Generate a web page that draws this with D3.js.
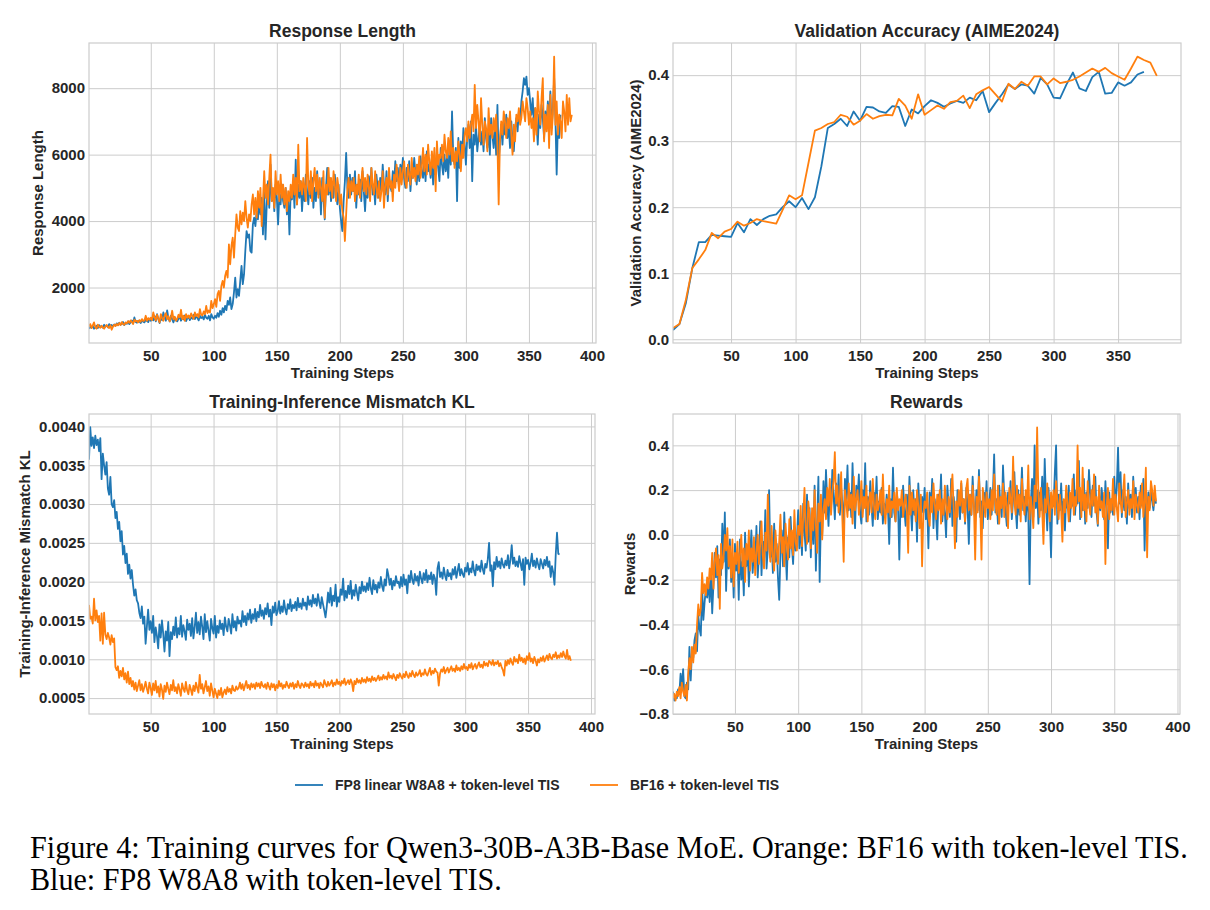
<!DOCTYPE html>
<html>
<head>
<meta charset="utf-8">
<script src="https://cdn.jsdelivr.net/npm/d3@7"></script>
<style>
  body { margin: 0; background: #fff; }
  svg { display: block; font-family: "Liberation Sans", Arial, sans-serif; }
</style>
</head>
<body>
<svg width="1210" height="910"></svg>
<script>
// ---- data ----
// response length, one value per training step (from step 1)
var rlFp8 = [
760,820,790,840,760,800,850,780,870,810,
830,790,880,820,860,800,900,840,870,830,
890,850,920,870,940,880,900,960,870,930,
910,980,900,950,1010,920,1100,960,940,1000,
980,930,1020,970,950,1040,990,960,1060,1000,
1080,1010,1150,980,1200,1050,930,1120,1020,1250,
1100,1000,1310,1080,980,1150,1040,950,1100,1020,
980,1060,1130,1000,1090,1040,1160,990,1070,1120,
1020,1100,1060,1180,1050,1130,1090,1010,1150,1080,
1120,1040,1180,1090,1060,1150,1010,1200,1100,1060,
1150,1090,1230,1120,1300,1180,1380,1250,1450,1320,
1600,1480,1700,1350,1500,1850,2300,1700,1950,1750,
2200,2650,2100,2400,3100,3700,3500,3600,3100,3050,
3900,4100,3850,4300,4050,4550,4200,4700,3600,4900,
3450,4500,5200,4400,5700,4600,4950,4300,5100,4700,
3900,4800,4500,5100,4600,4400,5000,4200,4700,3600,
4900,4650,5200,4400,5850,4500,5100,4700,5200,4300,
5000,4600,5400,4900,4500,5200,4700,5300,4400,5000,
4600,5500,4800,5150,4200,5300,4700,4050,5000,5600,
4800,5300,4600,5050,4700,5400,4900,4500,5100,4400,
4000,3700,4600,5200,6050,5000,4700,5400,4800,5300,
4900,5500,4400,5100,4800,5250,4600,5500,4900,4300,
5100,4700,5350,4900,5600,4800,5100,4500,5400,5000,
4700,5300,4900,5700,5100,4800,5500,4600,5300,5050,
4900,5500,5100,5800,5200,5600,5000,5700,5400,5900,
5300,5000,5600,5200,5800,4900,5500,5300,5900,5400,
5100,5700,5200,5950,5500,5300,5800,5200,6100,5500,
5700,5300,5900,5100,5600,5400,6100,5600,5200,6200,
5700,5400,6000,5500,5900,5300,6300,5700,7300,5900,
5700,6200,4600,6500,5600,6400,5900,6800,6300,5700,
6500,6900,6200,7000,5200,6600,6300,6900,6100,6500,
6900,6300,6700,6100,7100,6500,6200,6800,6000,7100,
6600,6200,6900,6000,7500,5800,6400,6900,6300,7000,
6600,7200,6500,6900,6200,7000,6400,6100,6800,7100,
6700,7300,7000,7600,7900,8300,8100,8350,7800,8000,
7600,7200,7700,6900,7400,7000,6300,7200,6800,7500,
7100,6500,7300,6900,7600,7000,7900,6800,7400,8300,
7100,5400,7000,6500,7200
];
var rlBf16 = [
820,900,780,860,950,800,760,880,820,790,
850,800,760,830,870,810,780,860,730,820,
880,840,900,860,930,870,960,900,880,950,
920,990,940,1010,960,900,1030,980,1000,950,
1020,970,1050,990,1010,1150,1000,1080,1030,1090,
1020,1250,1100,1010,1180,1060,950,1200,1080,1000,
1150,1230,1050,1140,980,1100,1300,1040,1120,1000,
1060,1180,1100,1330,1050,1150,1000,1200,1090,1160,
1080,1220,1130,1060,1250,1140,1200,1100,1350,1180,
1160,1280,1200,1450,1230,1310,1250,1600,1380,1500,
1650,1420,1800,1900,1600,2050,2200,2000,2350,2500,
2300,3300,2700,3250,3500,2900,3600,4200,3800,3700,
4300,3900,4250,4000,4600,4100,3800,4200,4000,4500,
4800,4200,4700,4100,4900,4400,5000,3850,4600,5500,
4700,5100,4500,5300,6000,4600,5000,4400,5500,4800,
5200,4600,5400,4700,5100,4500,5000,4300,4900,4600,
5100,4700,5400,4800,5300,4500,6300,4900,5200,4800,
5300,5000,4600,6500,5100,4800,5500,4600,5200,5600,
4900,5400,4700,5300,5000,4600,5500,4100,5100,4800,
5600,4900,5300,4700,5500,5100,4600,5300,5000,4500,
4800,4300,4100,3400,4200,5000,5300,4700,5200,4900,
5300,4600,5100,4800,5400,4700,5200,5600,4900,5300,
4800,5400,5000,4600,5600,5100,4800,5500,5000,4700,
5200,4600,4900,5500,4400,5100,5300,4800,5600,5000,
5200,4600,5400,5000,5700,5300,4900,5600,5100,5500,
5800,5200,5000,5700,5400,5100,5900,5300,5600,5200,
5700,5400,5950,5300,5600,6200,5500,6000,5400,6300,
5800,5400,6100,5600,6200,4900,6400,5700,6000,5900,
6300,5800,6600,6100,5900,6500,6000,6700,5800,6200,
5600,6100,5800,6400,6000,5500,6300,5900,6600,6800,
6400,7000,6500,6900,7200,6700,8100,6800,7500,7000,
6400,7700,6900,6300,7000,6800,6100,7400,6600,6900,
6500,7100,6700,7200,6300,4500,6400,7000,6600,7300,
7000,6500,7100,6800,7300,6600,6000,6900,6400,7200,
7000,7400,6900,7100,7600,7300,7000,7700,7400,6900,
7300,6800,7100,6400,7400,6600,7900,7300,6900,7700,
8300,6400,7200,6700,7500,6200,7800,6600,7200,8950,
6900,7600,6600,7200,7000,6500,7600,7300,6700,7800,
6900,7700,7000,7200
];

// validation accuracy, every 5 steps (from step 5)
var vaFp8 = [
.014,.023,.055,.108,.147,.147,.158,.157,.156,.155,
.176,.162,.182,.173,.182,.187,.189,.200,.209,.200,
.214,.197,.215,.262,.320,.326,.334,.323,.345,.331,
.352,.351,.345,.343,.353,.352,.323,.348,.342,.353,
.362,.358,.352,.357,.361,.358,.366,.362,.376,.344,
.358,.371,.386,.379,.386,.384,.372,.396,.386,.366,
.365,.386,.404,.380,.376,.397,.405,.372,.373,.389,
.384,.389,.401,.405
];
var vaBf16 = [
.017,.023,.060,.108,.121,.135,.161,.153,.163,.167,
.178,.172,.176,.182,.179,.177,.175,.196,.218,.212,
.218,.267,.316,.320,.326,.329,.340,.337,.325,.331,
.341,.334,.338,.340,.339,.364,.354,.334,.371,.340,
.347,.354,.349,.359,.361,.369,.350,.371,.377,.382,
.371,.360,.387,.379,.390,.384,.398,.398,.386,.395,
.388,.390,.393,.398,.404,.410,.405,.411,.403,.398,
.393,.410,.428,.423,.419,.399
];

// training-inference mismatch KL, in units of 1e-4, one per step
var klFp8 = [
35.7,39.9,37.5,38.6,37.2,38.8,37.6,38.3,36.8,38.5,
33.2,36.5,35.0,33.8,35.4,32.0,31.2,33.5,30.0,29.6,
30.5,28.2,29.0,26.8,27.7,25.2,26.5,23.5,24.6,22.4,
23.6,21.0,22.2,20.4,21.5,19.6,18.2,19.0,17.6,17.2,
16.0,15.3,16.8,14.6,15.5,12.0,14.2,16.4,13.8,14.9,
13.4,15.6,12.2,14.1,13.0,11.4,14.5,12.8,15.0,13.3,
11.0,13.6,12.4,14.8,10.4,13.5,12.6,14.2,13.1,15.4,
12.8,14.0,13.2,15.6,12.9,14.4,13.6,12.5,15.1,13.8,
14.6,13.0,15.3,12.7,14.1,16.0,13.4,14.8,13.2,15.5,
14.2,12.6,15.8,13.5,14.9,13.7,12.4,15.2,14.0,13.3,
15.6,12.8,14.3,13.4,15.0,13.9,14.6,13.1,15.4,14.2,
13.6,15.2,14.4,13.3,15.8,14.1,14.9,13.7,15.5,14.6,
15.0,14.2,16.2,14.8,15.6,14.4,15.9,15.1,16.4,14.7,
15.8,15.2,16.5,14.9,16.1,15.4,17.0,15.6,16.3,15.2,
16.6,15.8,17.2,15.5,16.4,14.4,16.8,16.0,17.3,15.7,
16.2,17.5,15.9,16.8,16.1,17.6,16.4,15.8,17.1,16.5,
17.7,16.2,17.0,16.6,17.4,16.3,17.9,16.7,17.2,16.5,
17.8,16.9,17.3,16.4,18.1,17.0,17.6,16.8,18.3,17.2,
17.8,16.9,18.4,17.4,16.6,18.0,17.1,16.3,15.4,16.8,
18.6,17.3,19.2,16.9,18.2,17.5,19.6,16.8,18.0,17.4,
19.0,18.3,20.4,17.6,18.8,17.9,19.5,18.4,20.1,17.8,
18.9,18.2,19.6,18.6,17.6,19.3,18.5,20.0,18.8,19.4,
18.7,19.8,18.9,20.5,19.1,18.4,20.2,19.0,19.6,18.6,
19.9,19.2,20.6,19.4,18.8,20.3,19.5,21.6,20.8,19.6,
20.4,19.0,20.1,19.5,20.7,19.8,20.0,19.2,20.6,19.4,
20.9,19.6,20.3,18.5,20.8,19.9,21.4,20.2,19.7,21.0,
20.1,20.7,19.5,21.3,20.4,19.8,21.1,20.2,21.5,19.9,
20.8,20.3,21.2,19.7,20.9,20.4,18.3,21.7,22.5,20.6,
21.2,20.4,21.8,20.8,20.2,21.5,20.7,21.1,20.3,21.6,
20.9,21.9,20.5,21.4,22.3,20.8,21.6,21.0,20.6,21.8,
21.3,22.4,20.9,21.7,21.2,22.6,21.4,20.8,22.2,21.5,
22.0,21.3,22.7,21.6,21.0,22.3,21.8,22.9,25.0,21.4,
22.1,19.4,22.5,21.6,23.2,21.9,22.6,21.7,23.0,22.2,
21.8,22.7,22.1,23.4,21.7,22.8,24.7,22.3,23.1,22.0,
22.6,21.9,23.3,22.4,21.5,22.9,19.6,23.1,22.3,22.8,
21.6,22.4,23.6,22.0,22.7,21.8,23.0,22.2,21.6,22.9,
22.3,21.7,22.8,22.1,23.2,21.9,22.6,20.6,22.0,21.2,
19.6,23.5,26.3,23.6,23.5
];
var klBf16 = [
17.0,15.2,15.5,14.6,17.8,15.0,16.3,14.8,15.6,12.4,
15.9,12.0,16.0,13.2,12.6,13.4,12.8,11.9,13.1,12.2,
12.7,9.0,8.6,9.1,7.6,8.5,7.8,8.9,7.4,8.2,
7.0,8.4,6.8,7.6,6.5,7.2,6.1,7.0,5.9,6.6,
7.3,6.0,6.8,5.8,6.4,7.1,6.2,5.6,7.0,6.3,
5.4,6.9,6.0,7.2,5.7,6.5,5.2,6.8,6.1,4.9,
6.6,5.8,7.0,6.2,5.5,6.7,6.0,7.3,5.9,6.4,
5.6,6.8,6.1,5.3,6.9,6.2,5.8,7.1,6.0,5.5,
6.7,6.1,5.4,6.6,5.9,7.0,6.3,5.7,8.0,6.2,
6.8,5.6,6.4,7.2,5.9,6.5,5.3,6.9,6.0,5.1,
6.2,5.6,5.0,6.0,5.4,6.3,5.1,5.7,6.1,5.5,
6.4,5.8,6.2,5.6,6.6,6.0,5.9,6.5,6.1,6.3,
7.0,6.2,6.8,6.0,6.6,7.2,6.3,6.7,6.1,6.9,
6.4,6.8,6.2,7.0,6.5,6.9,6.3,7.1,6.6,6.4,
6.8,6.2,7.0,6.5,6.1,6.9,6.4,6.8,6.0,6.7,
6.3,7.2,6.5,6.9,6.2,6.7,6.4,7.1,6.6,6.3,
6.9,6.5,7.0,6.2,6.8,6.4,7.2,6.6,6.3,6.9,
6.7,6.4,7.0,6.5,6.8,6.3,7.1,6.6,6.9,6.4,
7.2,6.6,6.9,6.3,7.0,6.7,6.4,7.3,6.8,6.5,
7.1,6.6,6.9,7.3,6.5,7.0,6.7,7.4,6.8,7.1,
6.6,7.2,6.9,7.5,6.7,7.0,7.3,6.8,7.4,7.0,
5.9,7.2,6.8,7.5,7.0,7.3,6.9,7.6,7.1,7.4,
7.0,7.7,7.2,7.5,7.1,7.8,7.3,7.6,7.2,7.5,
7.9,7.3,7.7,7.4,8.0,7.5,7.8,7.4,8.3,7.6,
7.9,7.5,8.1,7.7,7.3,8.0,7.6,8.2,7.8,7.5,
8.1,7.7,8.4,7.9,7.6,8.2,7.8,8.5,8.0,7.7,
8.3,7.9,8.1,8.6,7.8,8.2,8.0,8.7,8.1,7.9,
8.4,8.9,8.0,8.5,8.2,8.8,8.4,8.3,6.6,8.1,
8.7,8.4,9.0,8.2,8.6,8.9,8.3,8.7,9.1,8.5,
8.8,8.4,9.2,8.6,8.9,8.5,9.1,8.7,9.4,8.8,
9.0,8.6,9.3,8.9,9.5,8.7,9.1,9.4,8.8,9.2,
9.6,9.0,9.3,8.9,9.7,9.2,9.5,9.1,9.8,9.6,
9.3,9.9,9.2,9.6,9.4,9.8,9.1,9.5,9.0,8.6,
7.9,9.8,9.2,9.9,9.4,10.1,9.6,9.3,10.3,9.7,
10.0,9.5,10.6,9.8,10.2,9.6,10.1,9.4,10.4,9.9,
10.8,9.7,10.1,9.5,10.3,9.8,9.2,10.0,9.6,10.2,
9.8,10.4,9.7,10.1,10.5,9.9,10.7,10.2,10.0,10.6,
10.3,10.9,10.1,10.5,10.2,10.8,10.3,11.0,10.4,10.1,
11.2,10.0,10.4,9.8
];

// rewards, one per step
var rwFp8 = [
-.70,-.74,-.72,-.73,-.69,-.71,-.62,-.68,-.60,-.72,
-.73,-.66,-.69,-.50,-.65,-.52,-.55,-.47,-.44,-.52,
-.36,-.42,-.45,-.23,-.38,-.30,-.24,-.28,-.21,-.30,
-.16,-.35,-.22,-.08,-.19,-.05,-.28,-.11,-.18,.05,
-.12,.10,-.25,-.06,-.15,-.02,-.21,-.10,-.28,-.04,
-.16,-.08,-.29,-.02,-.20,-.12,-.27,.01,-.14,-.05,
-.23,-.10,.02,-.17,-.07,-.13,.04,-.19,-.09,.06,
-.18,-.03,-.12,.11,-.15,-.06,.20,-.10,-.02,-.17,
.05,-.12,-.04,-.19,-.29,-.08,.02,-.14,.10,-.06,
-.20,-.01,-.10,.08,-.05,-.13,.03,-.07,-.02,.11,
-.06,.06,-.09,.14,.01,-.07,.18,-.03,.12,-.10,
.09,-.04,.22,-.16,.05,.26,-.21,.08,.00,.24,
.10,.29,.15,.04,.20,.12,.29,.18,.07,.23,
.13,.27,.09,.21,.14,.02,.25,.16,.31,.11,
.19,.08,.32,.14,.03,.22,.16,.27,.10,.05,
.20,.12,.32,.06,.17,.09,.24,.13,.04,.19,
.11,.26,.07,.15,.10,.21,.05,.14,.09,.18,
.12,-.04,.16,.08,.30,.10,.06,.19,.13,-.11,
.15,.08,.22,.11,.04,.18,.07,.26,.13,.02,
.20,.09,.16,-.03,.23,.12,.05,.17,.10,.21,
.07,.14,-.06,.19,.11,.25,.03,.16,.09,-.02,
.18,.12,.27,.06,.15,.10,-.01,.22,.13,.08,
.25,.04,.17,.11,-.03,.20,.14,.07,.23,.10,
.16,.05,.21,.12,-.04,.18,.09,.26,.13,.06,
.20,.11,.29,.08,.15,.03,.19,.12,.24,.07,
.14,.21,.09,.18,.36,.10,.16,.05,.22,.13,
.08,.31,.17,.11,.04,.19,.14,.24,.07,.16,
.28,.12,.03,.20,.09,.15,.30,.11,.17,.06,
.18,.10,-.22,.14,.25,.08,.40,.12,.20,.05,
.19,.11,.26,.07,.34,.15,.02,.21,.09,-.10,
.16,.13,.28,.40,.05,.18,.11,.23,.08,.15,
.02,.19,.12,.22,.06,.17,.13,.27,.09,.20,
.14,.33,.07,.16,.11,.25,.05,.19,.12,.29,
.17,.08,.22,.13,.26,.10,.04,.18,.11,.21,
.15,.07,.24,.12,-.06,.19,.10,.16,.09,.26,
.13,.21,.39,.14,.28,.08,.20,.11,.17,.05,
.23,.12,.18,.08,.26,.14,.21,.10,.17,.07,
.22,.13,.25,-.07,.16,.09,.19,.12,.20,.15,
.11,.18,.14
];
var rwBf16 = [
-.73,-.71,-.74,-.70,-.72,-.68,-.73,-.66,-.70,-.72,
-.67,-.74,-.62,-.55,-.60,-.50,-.57,-.49,-.53,-.40,
-.31,-.36,-.33,-.17,-.26,-.22,-.27,-.19,-.24,-.15,
-.20,-.08,-.24,-.12,-.06,-.18,-.09,-.33,-.04,-.15,
-.10,.00,-.07,.03,-.14,-.05,-.19,-.02,-.23,-.08,
-.13,-.03,-.17,-.09,.00,-.14,-.06,-.21,-.04,-.11,
.02,-.16,-.06,-.12,-.01,-.18,-.08,.00,-.13,-.04,
.06,-.09,-.15,.01,-.07,.18,-.05,-.12,.04,-.10,
-.16,.02,-.06,-.13,-.03,.09,-.08,-.01,-.14,.05,
-.04,-.11,.07,-.06,.02,-.09,.11,-.03,-.07,.04,
.00,.13,-.05,.08,.21,.03,-.04,.15,.09,-.06,
.12,.02,.20,.05,-.08,.14,.06,.18,-.02,.11,
.16,.07,.21,.13,.25,.09,.19,.24,.37,.14,
.22,.10,.17,.28,.06,-.12,.20,.15,.08,.23,
.12,.18,.05,.26,.11,.16,.20,.09,.14,.24,
.08,.17,.12,.22,.06,.15,.19,.10,.25,.13,
.07,.18,.11,.14,.20,.09,.27,.12,.05,.16,
.10,.22,.08,.15,.12,.19,.06,.21,.11,.16,
.13,.20,.08,.14,.18,.10,-.08,.22,.09,.19,
.11,.16,.06,.20,.13,.03,.18,-.14,.09,.15,
.12,.19,.08,.04,.17,.10,.23,.14,.07,.18,
.11,.20,.05,.16,.09,.22,.13,.07,.17,.10,
.19,.27,.12,-.06,.15,.08,.20,.13,.24,.10,
.16,.06,.21,.25,.11,.18,.09,.22,.14,-.11,
.17,.10,.26,.13,-.11,.21,.15,.08,.19,.12,
.16,.07,.20,.11,.27,.14,.09,.22,.05,.17,
.12,.23,.08,.19,.13,.03,.21,.16,.10,.35,
.15,.09,.22,.12,.18,.06,.25,.14,.09,.20,
.13,.31,.07,.17,.11,.03,.22,.15,.48,.18,
.08,.21,.11,-.04,.16,.10,.23,.13,.06,.19,
.12,.20,.09,.24,.15,.07,.18,.11,-.03,.16,
.10,.22,.14,.06,.19,.12,.25,.09,.17,.13,
.40,.15,.21,.08,.30,.11,.18,.06,.24,.14,
.09,.20,.13,.27,.10,.17,.05,.22,.12,.15,
.08,.19,-.13,.13,.21,.07,.16,.11,.25,.09,
.18,.12,.06,.23,.15,.10,.19,.27,.08,.14,
.20,.09,.16,.12,.24,.07,.18,.13,.10,.19,
.12,.23,.08,.15,.30,-.10,.17,.11,.24,.20,
.13,.22,.15
];

var stepTicks = [50, 100, 150, 200, 250, 300, 350, 400];
var seriesNames = ["FP8 linear W8A8 + token-level TIS", "BF16 + token-level TIS"];
var captionLines = [
  "Figure 4: Training curves for Qwen3-30B-A3B-Base MoE. Orange: BF16 with token-level TIS.",
  "Blue: FP8 W8A8 with token-level TIS."
];

// ---- drawing ----
var svg = d3.select("svg");
var blue = "#1f77b4", orange = "#ff7f0e", gridc = "#cccccc", ink = "#262626";

svg.append("rect").attr("width", 1210).attr("height", 910).attr("fill", "#fff");

function perStep(arr, first, every) {
  return arr.map(function(v, i) { return { s: first + i * every, v: v }; });
}

function drawPanel(p) {
  var g = svg.append("g");
  var x = d3.scaleLinear().domain(p.xDomain).range([p.left, p.right]);
  var y = d3.scaleLinear().domain(p.yDomain).range([p.bottom, p.top]);
  var h = p.bottom - p.top, w = p.right - p.left;

  var xa = g.append("g").attr("transform", "translate(0," + p.bottom + ")")
    .call(d3.axisBottom(x).tickValues(p.xTicks).tickSize(-h).tickPadding(7).tickFormat(d3.format("d")));
  var ya = g.append("g").attr("transform", "translate(" + p.left + ",0)")
    .call(d3.axisLeft(y).tickValues(p.yTicks).tickSize(-w).tickPadding(4).tickFormat(p.yFormat));

  [xa, ya].forEach(function(a) {
    a.select(".domain").remove();
    a.selectAll(".tick line").attr("stroke", gridc).attr("stroke-width", 1);
    a.selectAll(".tick text").attr("fill", ink)
      .style("font-size", "15px").style("font-weight", "bold")
      .style("font-family", '"Liberation Sans", Arial, sans-serif');
  });

  var clipId = "clip" + p.id;
  svg.append("clipPath").attr("id", clipId).append("rect")
    .attr("x", p.left).attr("y", p.top).attr("width", w).attr("height", h);

  var line = d3.line().x(function(d) { return x(d.s); }).y(function(d) { return y(d.v); });
  p.series.forEach(function(s) {
    g.append("path").datum(s.data)
      .attr("clip-path", "url(#" + clipId + ")")
      .attr("fill", "none").attr("stroke", s.color)
      .attr("stroke-width", 1.8).attr("stroke-linejoin", "round")
      .attr("d", line);
  });

  g.append("rect").attr("x", p.left).attr("y", p.top).attr("width", w).attr("height", h)
    .attr("fill", "none").attr("stroke", gridc).attr("stroke-width", 1.2);

  g.append("text").attr("x", (p.left + p.right) / 2).attr("y", p.top - 6)
    .attr("text-anchor", "middle").attr("fill", ink)
    .style("font-size", "17.5px").style("font-weight", "bold").text(p.title);

  g.append("text").attr("x", (p.left + p.right) / 2).attr("y", p.bottom + 35)
    .attr("text-anchor", "middle").attr("fill", ink)
    .style("font-size", "15px").style("font-weight", "bold").text("Training Steps");

  g.append("text")
    .attr("transform", "translate(" + p.ylabX + "," + (p.top + p.bottom) / 2 + ") rotate(-90)")
    .attr("dy", "0.35em").attr("text-anchor", "middle").attr("fill", ink)
    .style("font-size", "15px").style("font-weight", "bold").text(p.ylabel);
}

drawPanel({
  id: 1, left: 89, right: 596, top: 43, bottom: 343,
  xDomain: [1, 403.2], yDomain: [330, 9360],
  xTicks: stepTicks, yTicks: [2000, 4000, 6000, 8000], yFormat: d3.format("d"),
  title: "Response Length", ylabel: "Response Length", ylabX: 38,
  series: [{ data: perStep(rlFp8, 1, 1), color: blue }, { data: perStep(rlBf16, 1, 1), color: orange }]
});

drawPanel({
  id: 2, left: 673, right: 1181, top: 43, bottom: 343,
  xDomain: [5, 398.75], yDomain: [-0.0057, 0.4487],
  xTicks: [50, 100, 150, 200, 250, 300, 350], yTicks: [0, 0.1, 0.2, 0.3, 0.4], yFormat: d3.format(".1f"),
  title: "Validation Accuracy (AIME2024)", ylabel: "Validation Accuracy (AIME2024)", ylabX: 636,
  series: [{ data: perStep(vaFp8, 5, 5), color: blue }, { data: perStep(vaBf16, 5, 5), color: orange }]
});

drawPanel({
  id: 3, left: 89, right: 595, top: 414, bottom: 714,
  xDomain: [1, 403.2], yDomain: [0.000295, 0.00416],
  xTicks: stepTicks, yTicks: [0.0005, 0.001, 0.0015, 0.002, 0.0025, 0.003, 0.0035, 0.004],
  yFormat: d3.format(".4f"),
  title: "Training-Inference Mismatch KL", ylabel: "Training-Inference Mismatch KL", ylabX: 25,
  series: [
    { data: perStep(klFp8.map(function(v) { return v / 1e4; }), 1, 1), color: blue },
    { data: perStep(klBf16.map(function(v) { return v / 1e4; }), 1, 1), color: orange }
  ]
});

drawPanel({
  id: 4, left: 673, right: 1180, top: 414, bottom: 714,
  xDomain: [1, 402], yDomain: [-0.8, 0.54],
  xTicks: stepTicks, yTicks: [-0.8, -0.6, -0.4, -0.2, 0, 0.2, 0.4], yFormat: d3.format(".1f"),
  title: "Rewards", ylabel: "Rewards", ylabX: 630,
  series: [{ data: perStep(rwFp8, 1, 1), color: blue }, { data: perStep(rwBf16, 1, 1), color: orange }]
});

// legend
var legX = [295, 590];
seriesNames.forEach(function(name, i) {
  svg.append("line").attr("x1", legX[i]).attr("x2", legX[i] + 28)
    .attr("y1", 785).attr("y2", 785)
    .attr("stroke", i === 0 ? blue : orange).attr("stroke-width", 1.8);
  svg.append("text").attr("x", legX[i] + 40).attr("y", 790).attr("fill", ink)
    .style("font-size", "14px").style("font-weight", "bold").text(name);
});

// caption: the figure text is narrow, so squeeze each line horizontally to its width
var capLen = [1158, 472];
captionLines.forEach(function(t, i) {
  var txt = svg.append("text").attr("x", 0).attr("y", 0)
    .style("font-family", '"Liberation Serif", "Times New Roman", serif')
    .style("font-size", "31px").attr("fill", "#000").text(t);
  var natural = txt.node().getComputedTextLength();
  txt.attr("transform", "translate(30," + (858 + i * 32) + ") scale(" + (capLen[i] / natural) + ",1)");
});
</script>
</body>
</html>
